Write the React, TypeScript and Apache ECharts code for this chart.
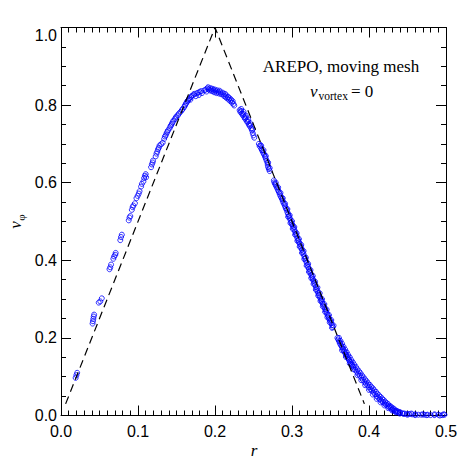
import React, { useEffect, useRef } from "react";
import * as echarts from "echarts";

// x ticks (r) and y ticks (v_phi)
const xTicks = [0, 0.1, 0.2, 0.3, 0.4, 0.5];
const yTicks = [0, 0.2, 0.4, 0.6, 0.8, 1.0];

// analytic reference profile (dashed)
const analytic: number[][] = [
  [0.006, 0.03],
  [0.2, 1.0],
  [0.394, 0.03],
];

// sparse inner cells
const innerPts: number[][] = [
  [0.019, 0.097], [0.020, 0.104], [0.021, 0.110],
  [0.041, 0.237], [0.0415, 0.243], [0.042, 0.249], [0.0425, 0.255], [0.043, 0.26],
  [0.049, 0.291], [0.051, 0.294], [0.053, 0.302],
  [0.063, 0.377], [0.064, 0.382], [0.065, 0.389],
  [0.068, 0.404], [0.069, 0.41], [0.0705, 0.414], [0.071, 0.419],
  [0.077, 0.452], [0.078, 0.46], [0.079, 0.466],
  [0.088, 0.503], [0.089, 0.51], [0.090, 0.514],
  [0.092, 0.53], [0.093, 0.537], [0.094, 0.541], [0.096, 0.547],
  [0.098, 0.56], [0.0995, 0.566], [0.101, 0.572], [0.102, 0.578],
];

// rising part
const risingPts: number[][] = [
  [0.104, 0.59], [0.105, 0.597], [0.107, 0.603], [0.108, 0.612], [0.109, 0.618], [0.110, 0.622], [0.1105, 0.614],
  [0.117, 0.64], [0.118, 0.647], [0.119, 0.652], [0.1195, 0.657],
  [0.123, 0.668], [0.124, 0.675], [0.125, 0.68], [0.126, 0.686], [0.127, 0.69], [0.128, 0.696], [0.13, 0.699], [0.132, 0.703],
  [0.134, 0.713], [0.135, 0.719], [0.136, 0.722], [0.137, 0.727], [0.138, 0.731], [0.139, 0.735],
  [0.141, 0.74], [0.142, 0.745], [0.143, 0.748], [0.144, 0.752], [0.145, 0.756], [0.146, 0.76],
  [0.148, 0.764], [0.149, 0.768], [0.150, 0.771], [0.152, 0.774], [0.153, 0.778], [0.155, 0.782],
  [0.157, 0.787], [0.158, 0.79], [0.16, 0.795], [0.161, 0.799], [0.162, 0.803], [0.163, 0.806],
  [0.164, 0.81], [0.165, 0.812], [0.166, 0.815], [0.167, 0.818], [0.168, 0.814], [0.169, 0.821], [0.17, 0.824],
  [0.172, 0.826], [0.173, 0.829], [0.175, 0.823], [0.176, 0.83], [0.178, 0.832], [0.179, 0.826], [0.18, 0.834],
  [0.182, 0.836], [0.183, 0.831],
];

// peak
const peakPts: number[][] = [
  [0.186, 0.838], [0.188, 0.84], [0.189, 0.835], [0.19, 0.843], [0.191, 0.846], [0.192, 0.841], [0.193, 0.838],
  [0.194, 0.844], [0.195, 0.84], [0.196, 0.836], [0.197, 0.842], [0.198, 0.838], [0.199, 0.833], [0.2, 0.84],
  [0.201, 0.836], [0.202, 0.831], [0.203, 0.838], [0.204, 0.834], [0.205, 0.83], [0.206, 0.837], [0.207, 0.833],
  [0.208, 0.828], [0.21, 0.832], [0.211, 0.827], [0.212, 0.823], [0.213, 0.829], [0.214, 0.82], [0.215, 0.825],
  [0.216, 0.817], [0.217, 0.821], [0.218, 0.814], [0.219, 0.818], [0.22, 0.81], [0.221, 0.814], [0.222, 0.806],
  [0.223, 0.81], [0.224, 0.803], [0.225, 0.799],
];

// upper falling part
const fallPts1: number[][] = [
  [0.232, 0.787], [0.233, 0.782], [0.234, 0.785], [0.235, 0.778], [0.236, 0.774], [0.237, 0.777], [0.238, 0.769],
  [0.239, 0.765], [0.24, 0.768], [0.241, 0.76], [0.242, 0.756], [0.243, 0.758], [0.244, 0.75], [0.245, 0.746],
  [0.246, 0.748], [0.247, 0.74], [0.248, 0.735], [0.249, 0.728], [0.25, 0.722], [0.251, 0.716],
  [0.257, 0.7], [0.258, 0.694], [0.259, 0.697], [0.26, 0.688], [0.261, 0.684], [0.262, 0.68], [0.263, 0.676],
  [0.264, 0.672], [0.265, 0.667], [0.266, 0.662], [0.267, 0.657], [0.268, 0.652], [0.2685, 0.646], [0.269, 0.64],
  [0.27, 0.635], [0.271, 0.63],
];

// middle falling part
const fallPts2: number[][] = [
  [0.2765, 0.606], [0.277, 0.601], [0.278, 0.597], [0.279, 0.593], [0.28, 0.589], [0.281, 0.585], [0.282, 0.58],
  [0.283, 0.576], [0.284, 0.571], [0.285, 0.566], [0.286, 0.562], [0.287, 0.558], [0.288, 0.553], [0.289, 0.548],
  [0.29, 0.544], [0.291, 0.539], [0.292, 0.534], [0.293, 0.53], [0.294, 0.524], [0.295, 0.519], [0.296, 0.514],
  [0.297, 0.509], [0.298, 0.504], [0.299, 0.498], [0.3, 0.493], [0.301, 0.489], [0.302, 0.484], [0.303, 0.479],
  [0.304, 0.474], [0.305, 0.468], [0.306, 0.463], [0.307, 0.457], [0.308, 0.452], [0.309, 0.447], [0.31, 0.443],
  [0.311, 0.437], [0.312, 0.432], [0.313, 0.427], [0.314, 0.421], [0.315, 0.416], [0.316, 0.41], [0.317, 0.405],
  [0.318, 0.399], [0.319, 0.394], [0.32, 0.388], [0.321, 0.383], [0.322, 0.378], [0.323, 0.372], [0.324, 0.367],
  [0.325, 0.362], [0.326, 0.357], [0.327, 0.352], [0.328, 0.347], [0.329, 0.342], [0.33, 0.337], [0.331, 0.331],
  [0.332, 0.326], [0.333, 0.321], [0.334, 0.316], [0.335, 0.311], [0.336, 0.306], [0.337, 0.302], [0.338, 0.297],
  [0.339, 0.293], [0.34, 0.288], [0.341, 0.284], [0.342, 0.279], [0.343, 0.274], [0.344, 0.27], [0.345, 0.265],
  [0.346, 0.26], [0.347, 0.256], [0.348, 0.251], [0.349, 0.247], [0.35, 0.243], [0.351, 0.238], [0.352, 0.233],
  [0.353, 0.228],
];

// lower falling part and tail
const fallPts3: number[][] = [
  [0.359, 0.2], [0.36, 0.196], [0.361, 0.192], [0.362, 0.187], [0.363, 0.183], [0.364, 0.18], [0.365, 0.176],
  [0.366, 0.172], [0.367, 0.168], [0.368, 0.165], [0.369, 0.161], [0.37, 0.157], [0.371, 0.154], [0.372, 0.15],
  [0.373, 0.147], [0.374, 0.143], [0.375, 0.14], [0.376, 0.137], [0.377, 0.133], [0.378, 0.13], [0.379, 0.127],
  [0.38, 0.124], [0.382, 0.118], [0.384, 0.113], [0.386, 0.108], [0.388, 0.103], [0.39, 0.098], [0.392, 0.092],
  [0.394, 0.087], [0.396, 0.082], [0.398, 0.078], [0.4, 0.073], [0.402, 0.068], [0.404, 0.064], [0.406, 0.059],
  [0.408, 0.055], [0.41, 0.05],
  [0.412, 0.046], [0.414, 0.042], [0.416, 0.038], [0.418, 0.035], [0.42, 0.031], [0.422, 0.028], [0.424, 0.025],
  [0.426, 0.022], [0.428, 0.019], [0.43, 0.016], [0.432, 0.013], [0.434, 0.011], [0.436, 0.009], [0.438, 0.008],
  [0.44, 0.007], [0.443, 0.006], [0.446, 0.005], [0.449, 0.004], [0.452, 0.004], [0.456, 0.003], [0.46, 0.003],
  [0.464, 0.002], [0.468, 0.002], [0.472, 0.002], [0.476, 0.002], [0.48, 0.001], [0.485, 0.001], [0.49, 0.002],
  [0.495, 0.001], [0.498, 0.002],
];

// scatter of the band (spread of cells)
const bandPts: number[][] = [
  [0.234, 0.79], [0.237, 0.783], [0.24, 0.773], [0.243, 0.763], [0.246, 0.753], [0.249, 0.738],
  [0.26, 0.695], [0.263, 0.684], [0.266, 0.669], [0.269, 0.652], [0.271, 0.638],
  [0.279, 0.6], [0.282, 0.588], [0.285, 0.574], [0.288, 0.56], [0.291, 0.546], [0.294, 0.532], [0.297, 0.516],
  [0.3, 0.501], [0.303, 0.486], [0.306, 0.47], [0.309, 0.455], [0.312, 0.44], [0.315, 0.424], [0.318, 0.407],
  [0.321, 0.391], [0.324, 0.375], [0.327, 0.36], [0.33, 0.345], [0.333, 0.33], [0.336, 0.315], [0.339, 0.3],
  [0.342, 0.287], [0.345, 0.273], [0.348, 0.259], [0.351, 0.246], [0.354, 0.232],
  [0.295, 0.512], [0.298, 0.496], [0.301, 0.481], [0.304, 0.466], [0.307, 0.45], [0.31, 0.435], [0.313, 0.419],
  [0.316, 0.403], [0.319, 0.386], [0.322, 0.37], [0.325, 0.354], [0.328, 0.339], [0.331, 0.324], [0.334, 0.309],
  [0.337, 0.295], [0.34, 0.281], [0.343, 0.267], [0.346, 0.253], [0.349, 0.24], [0.352, 0.226],
  [0.361, 0.2], [0.363, 0.192], [0.365, 0.185], [0.367, 0.177], [0.369, 0.17], [0.371, 0.163], [0.373, 0.156],
  [0.375, 0.15], [0.377, 0.143], [0.379, 0.137], [0.381, 0.131], [0.383, 0.125], [0.385, 0.119], [0.387, 0.114],
  [0.389, 0.109], [0.391, 0.103], [0.393, 0.098], [0.395, 0.093], [0.397, 0.088], [0.399, 0.083], [0.401, 0.079],
  [0.403, 0.074], [0.405, 0.07], [0.407, 0.065], [0.409, 0.061], [0.411, 0.056], [0.413, 0.052], [0.415, 0.048],
  [0.417, 0.044], [0.419, 0.04], [0.421, 0.036], [0.423, 0.032], [0.425, 0.029], [0.427, 0.025], [0.429, 0.022],
  [0.431, 0.019], [0.433, 0.016], [0.435, 0.013], [0.437, 0.011], [0.44, 0.009],
  [0.365, 0.168], [0.37, 0.151], [0.375, 0.134], [0.38, 0.119], [0.385, 0.104], [0.39, 0.091], [0.395, 0.078],
  [0.4, 0.066], [0.405, 0.054], [0.41, 0.043], [0.415, 0.034], [0.42, 0.026], [0.425, 0.019], [0.43, 0.013],
  [0.435, 0.008], [0.44, 0.005], [0.445, 0.004], [0.45, 0.002], [0.455, 0.005], [0.46, 0.001], [0.47, 0.003],
  [0.475, 0.001], [0.485, 0.003], [0.492, 0.0], [0.497, 0.003],
];

const allPts = [
  ...innerPts, ...risingPts, ...peakPts, ...fallPts1, ...fallPts2, ...fallPts3, ...bandPts,
];

const SANS = "Liberation Sans";
const SERIF = "Liberation Serif";

export default function App() {
  const ref = useRef<HTMLDivElement>(null);
  useEffect(() => {
    if (!ref.current) return;
    const chart = echarts.init(ref.current, null, { renderer: "svg" });
    const tickCommon = {
      axisLine: { show: true, onZero: false, lineStyle: { color: "#000", width: 1 } },
      axisTick: { show: true, inside: true, length: 10, lineStyle: { color: "#000", width: 1 } },
      minorTick: { show: true, length: 5, lineStyle: { color: "#000", width: 1 } },
      splitLine: { show: false },
      minorSplitLine: { show: false },
    };
    chart.setOption({
      animation: false,
      backgroundColor: "#fff",
      grid: { left: 61, right: 26, top: 27.5, bottom: 56.5, containLabel: false },
      xAxis: [
        {
          type: "value",
          min: xTicks[0],
          max: xTicks[xTicks.length - 1],
          interval: 0.1,
          position: "bottom",
          ...tickCommon,
          minorTick: { ...tickCommon.minorTick, splitNumber: 10 },
          axisLabel: {
            color: "#000",
            fontFamily: SANS,
            fontSize: 16,
            margin: 8,
            formatter: (v: number) => v.toFixed(1),
          },
        },
        {
          type: "value",
          min: xTicks[0],
          max: xTicks[xTicks.length - 1],
          interval: 0.1,
          position: "top",
          ...tickCommon,
          minorTick: { ...tickCommon.minorTick, splitNumber: 10 },
          axisLabel: { show: false },
        },
      ],
      yAxis: [
        {
          type: "value",
          min: yTicks[0],
          max: yTicks[yTicks.length - 1],
          interval: 0.2,
          position: "left",
          ...tickCommon,
          minorTick: { ...tickCommon.minorTick, splitNumber: 4 },
          axisLabel: {
            color: "#000",
            fontFamily: SANS,
            fontSize: 16,
            margin: 4,
            verticalAlignMaxLabel: "top",
            formatter: (v: number) => v.toFixed(1),
          },
        },
        {
          type: "value",
          min: yTicks[0],
          max: yTicks[yTicks.length - 1],
          interval: 0.2,
          position: "right",
          ...tickCommon,
          minorTick: { ...tickCommon.minorTick, splitNumber: 4 },
          axisLabel: { show: false },
        },
      ],
      series: [
        {
          type: "scatter",
          xAxisIndex: 0,
          yAxisIndex: 0,
          data: allPts,
          symbol: "circle",
          symbolSize: 5,
          itemStyle: { color: "rgba(0,0,0,0)", borderColor: "#0000ff", borderWidth: 1 },
          silent: true,
        },
        {
          type: "line",
          xAxisIndex: 0,
          yAxisIndex: 0,
          data: analytic,
          showSymbol: false,
          symbol: "none",
          lineStyle: { color: "#000", width: 1.2, type: [8, 5] },
          silent: true,
          z: 3,
        },
      ],
      graphic: [
        {
          type: "text",
          x: 341,
          y: 66,
          style: {
            text: "AREPO, moving mesh",
            fill: "#000",
            font: `17px "${SERIF}"`,
            align: "center",
            verticalAlign: "middle",
          },
        },
        {
          type: "text",
          x: 310,
          y: 91,
          style: { text: "v", fill: "#000", font: `italic 17px "${SERIF}"`, align: "left", verticalAlign: "middle" },
        },
        {
          type: "text",
          x: 318.5,
          y: 95.5,
          style: { text: "vortex", fill: "#000", font: `11.5px "${SERIF}"`, align: "left", verticalAlign: "middle" },
        },
        {
          type: "text",
          x: 351,
          y: 91,
          style: { text: "= 0", fill: "#000", font: `17px "${SERIF}"`, align: "left", verticalAlign: "middle" },
        },
        {
          type: "text",
          x: 254,
          y: 450,
          style: { text: "r", fill: "#000", font: `italic 17px "${SERIF}"`, align: "center", verticalAlign: "middle" },
        },
        {
          type: "text",
          x: 15,
          y: 225,
          rotation: Math.PI / 2,
          style: { text: "v", fill: "#000", font: `italic 17px "${SERIF}"`, align: "center", verticalAlign: "middle" },
        },
        {
          type: "text",
          x: 21,
          y: 217.5,
          rotation: Math.PI / 2,
          style: { text: "φ", fill: "#000", font: `11px "${SERIF}"`, align: "center", verticalAlign: "middle" },
        },
      ],
    });
    return () => chart.dispose();
  }, []);
  return (
    <div
      ref={ref}
      style={{ position: "absolute", left: 0, top: 0, width: 472, height: 472 }}
    />
  );
}
